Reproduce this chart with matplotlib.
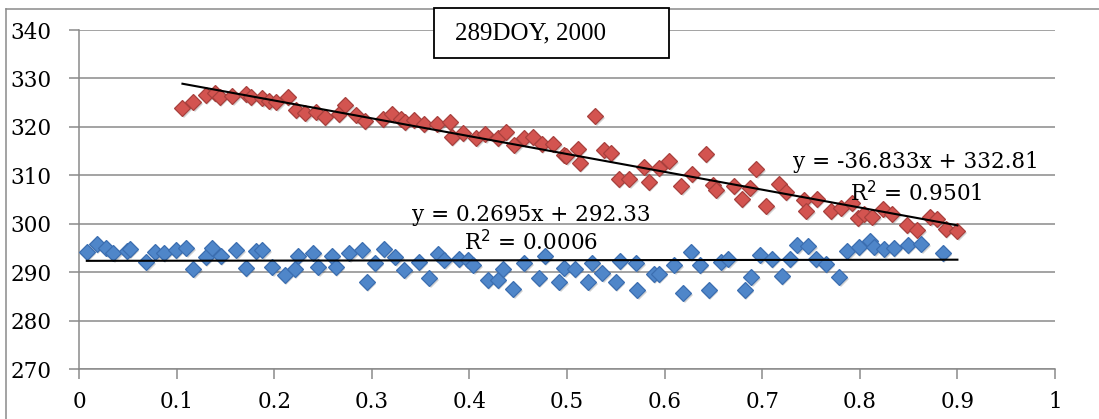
import matplotlib.pyplot as plt
import matplotlib.transforms as mtransforms
from matplotlib.patches import Rectangle
from matplotlib.lines import Line2D
import numpy as np

# blue series (near 292)
x_blue = [0.008, 0.018, 0.028, 0.035, 0.049, 0.052, 0.069, 0.078, 0.087, 0.099,
          0.110, 0.117, 0.130, 0.136, 0.145, 0.161, 0.171, 0.181, 0.188, 0.198,
          0.211, 0.221, 0.224, 0.240, 0.245, 0.259, 0.263, 0.277, 0.290, 0.295,
          0.303, 0.312, 0.324, 0.333, 0.348, 0.359, 0.368, 0.374, 0.389, 0.399,
          0.404, 0.419, 0.429, 0.434, 0.445, 0.456, 0.471, 0.477, 0.492, 0.497,
          0.508, 0.522, 0.526, 0.536, 0.550, 0.554, 0.571, 0.572, 0.589, 0.594,
          0.610, 0.619, 0.627, 0.636, 0.645, 0.658, 0.665, 0.682, 0.689, 0.698,
          0.710, 0.720, 0.728, 0.736, 0.747, 0.755, 0.765, 0.779, 0.787, 0.799,
          0.810, 0.815, 0.825, 0.835, 0.849, 0.863, 0.885]
y_blue = [294.2, 295.8, 295.0, 293.9, 294.3, 294.7, 292.1, 294.2, 293.9, 294.5,
          294.9, 290.6, 293.2, 295.0, 293.4, 294.5, 290.8, 294.3, 294.5, 291.1,
          289.4, 290.6, 293.4, 294.0, 291.1, 293.4, 291.1, 294.0, 294.5, 287.9,
          291.9, 294.8, 293.2, 290.4, 292.1, 288.7, 293.7, 292.5, 292.8, 292.5,
          291.4, 288.3, 288.3, 290.6, 286.6, 291.9, 288.7, 293.4, 288.0, 290.8,
          290.6, 288.0, 291.9, 289.9, 288.0, 292.3, 291.9, 286.4, 289.7, 289.6,
          291.4, 285.6, 294.2, 291.4, 286.4, 292.1, 292.8, 286.4, 289.0, 293.5,
          292.8, 289.2, 292.8, 295.6, 295.4, 292.8, 291.7, 289.0, 294.4, 295.2,
          296.5, 295.2, 294.7, 294.9, 295.7, 295.9, 293.9]

# red series (decreasing)
x_red = [0.106, 0.117, 0.130, 0.139, 0.144, 0.157, 0.171, 0.176, 0.188, 0.195,
         0.202, 0.214, 0.222, 0.232, 0.243, 0.252, 0.266, 0.273, 0.284, 0.293,
         0.311, 0.321, 0.330, 0.334, 0.343, 0.353, 0.367, 0.380, 0.382, 0.393,
         0.407, 0.416, 0.429, 0.437, 0.446, 0.456, 0.465, 0.474, 0.486, 0.497,
         0.499, 0.511, 0.513, 0.529, 0.538, 0.545, 0.553, 0.564, 0.579, 0.584,
         0.594, 0.605, 0.617, 0.628, 0.642, 0.650, 0.653, 0.671, 0.679, 0.688,
         0.694, 0.704, 0.717, 0.724, 0.743, 0.745, 0.756, 0.770, 0.781, 0.792,
         0.798, 0.804, 0.813, 0.824, 0.833, 0.848, 0.859, 0.872, 0.879, 0.888,
         0.900]
y_red = [323.8, 325.1, 326.6, 326.9, 326.2, 326.4, 326.7, 326.2, 325.9, 325.4,
         325.2, 326.1, 323.5, 322.9, 323.0, 322.0, 322.6, 324.5, 322.4, 321.2,
         321.6, 322.6, 321.6, 320.9, 321.4, 320.5, 320.6, 321.1, 318.0, 318.8,
         317.6, 318.5, 317.8, 319.0, 316.2, 317.8, 318.0, 316.4, 316.4, 314.2,
         314.0, 315.4, 312.6, 322.2, 315.2, 314.6, 309.2, 309.2, 311.8, 308.7,
         311.6, 313.0, 307.8, 310.2, 314.4, 308.0, 306.9, 307.8, 305.1, 307.3,
         311.4, 303.7, 308.3, 306.6, 305.0, 302.7, 305.1, 302.7, 303.3, 304.3,
         301.1, 302.1, 301.4, 303.0, 302.1, 299.7, 298.7, 301.4, 300.9, 298.9,
         298.5]

# trend lines as printed on the chart
blue_fit = (0.2695, 292.33, 0.0006)
red_fit = (-36.833, 332.81, 0.9501)

title = "289DOY, 2000"
yticks = [270, 280, 290, 300, 310, 320, 330, 340]
xticks = [0, 0.1, 0.2, 0.3, 0.4, 0.5, 0.6, 0.7, 0.8, 0.9, 1]
xlabels = ["0", "0.1", "0.2", "0.3", "0.4", "0.5", "0.6", "0.7", "0.8", "0.9", "1"]

W, H = 1099, 419
fig = plt.figure(figsize=(W / 100, H / 100), dpi=100)
ax = fig.add_axes([79 / W, 1 - 369 / H, (1055 - 79) / W, (369 - 30) / H])

ax.set_xlim(0, 1)
ax.set_ylim(270, 340)
ax.set_yticks(yticks)
ax.set_xticks(xticks)
ax.set_xticklabels(xlabels)
ax.grid(axis="y", color="#8a8a8a", linewidth=1.1)
ax.set_axisbelow(True)
for s in ["top", "right"]:
    ax.spines[s].set_visible(False)
for s in ["left", "bottom"]:
    ax.spines[s].set_color("#8a8a8a")
    ax.spines[s].set_linewidth(1.1)
ax.tick_params(axis="both", direction="out", length=7, width=1.1, color="#8a8a8a",
               labelsize=15.5)
for lab in ax.get_xticklabels() + ax.get_yticklabels():
    lab.set_family("DejaVu Serif")
ax.tick_params(axis="x", pad=9)
ax.tick_params(axis="y", pad=13)

# soft shadow under markers
shadow = mtransforms.offset_copy(ax.transData, fig=fig, x=1.5, y=-2.0, units="dots")
ax.plot(x_blue, y_blue, "D", ms=8.5, color="#000000", alpha=0.18, mew=0, transform=shadow)
ax.plot(x_red, y_red, "D", ms=8.5, color="#000000", alpha=0.18, mew=0, transform=shadow)

ax.plot(x_blue, y_blue, "D", ms=8.5, mfc="#4f86c9", mec="#3b6eb0", mew=0.9, ls="none", zorder=3)
ax.plot(x_red, y_red, "D", ms=8.5, mfc="#d35450", mec="#a8403d", mew=0.9, ls="none", zorder=3)

x_end = max(max(x_blue), max(x_red))
xb = np.array([min(x_blue), x_end])
xr = np.array([min(x_red), max(x_red)])
ax.plot(xb, blue_fit[0] * xb + blue_fit[1], color="black", lw=1.5, zorder=4)
ax.plot(xr, red_fit[0] * xr + red_fit[1], color="black", lw=1.5, zorder=4)

font = dict(family="DejaVu Serif", fontsize=15.5, ha="center", va="center", zorder=5)
ax.text(0.463, 301.8, "y = %.4fx + %.2f" % blue_fit[:2], **font)
ax.text(0.463, 296.0, "R$^2$ = %.4f" % blue_fit[2], **font)
ax.text(0.857, 312.7, "y = %.3fx + %.2f" % red_fit[:2], **font)
ax.text(0.858, 306.3, "R$^2$ = %.4f" % red_fit[2], **font)

# outer chart border
fig.add_artist(Line2D([6 / W, 6 / W], [0, 1 - 9 / H], transform=fig.transFigure,
                      color="#8a8a8a", lw=1.1))
fig.add_artist(Line2D([6 / W, 1], [1 - 9 / H, 1 - 9 / H], transform=fig.transFigure,
                      color="#8a8a8a", lw=1.1))

# title box
fig.add_artist(Rectangle((434 / W, 1 - 58 / H), (669 - 434) / W, 50 / H,
                         transform=fig.transFigure, facecolor="white",
                         edgecolor="black", lw=1.3, zorder=6))
fig.text(455 / W, 1 - 33 / H, title, family="Liberation Serif", fontsize=18,
         ha="left", va="center", zorder=7)

fig.savefig("out.png", dpi=100)
